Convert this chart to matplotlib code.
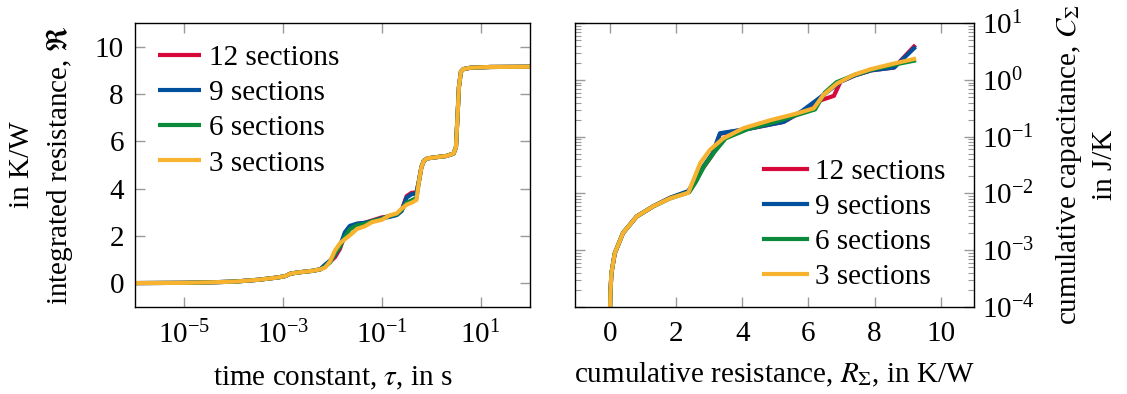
import numpy as np
import matplotlib
matplotlib.use("Agg")
import matplotlib.pyplot as plt
from matplotlib.ticker import FixedLocator, NullLocator, LogLocator, LogFormatterSciNotation, NullFormatter

plt.rcParams['font.family'] = ['Liberation Serif', 'DejaVu Serif']
plt.rcParams['mathtext.fontset'] = 'stix'

labels = ["12 sections", "9 sections", "6 sections", "3 sections"]
colors = ["#D9083A", "#00509E", "#0A8A3A", "#F7B22F"]

# left: integrated resistance over log10(time constant)
log_tau = [-6.0, -5.0, -4.5, -4.0, -3.5, -3.1, -2.95, -2.85, -2.7, -2.4, -2.25,
           -2.15, -2.05, -1.95, -1.85, -1.75, -1.65, -1.5, -1.35, -1.2, -1.0,
           -0.85, -0.7, -0.6, -0.5, -0.4, -0.3, -0.25, -0.2, -0.15, -0.08,
           0.1, 0.3, 0.45, 0.5, 0.53, 0.56, 0.6, 0.65, 0.8, 1.2, 2.0]
tail = [5.18, 5.28, 5.33, 5.38, 5.48, 5.75, 7.0, 8.3, 8.95, 9.06, 9.12, 9.15, 9.16]
head = [0.0, 0.01, 0.03, 0.06, 0.14, 0.24, 0.30, 0.40, 0.45, 0.52, 0.58]
res_12 = head + [0.75, 0.90, 1.10, 1.45, 2.05, 2.38, 2.50, 2.55, 2.65, 2.78, 2.82,
                 2.90, 3.08, 3.68, 3.82, 3.84, 4.30, 4.90] + tail
res_9 = head + [0.78, 0.95, 1.20, 1.55, 2.15, 2.42, 2.52, 2.55, 2.62, 2.75, 2.80,
                2.88, 3.05, 3.62, 3.76, 3.80, 4.35, 4.92] + tail
res_6 = head + [0.70, 0.88, 1.25, 1.55, 1.95, 2.28, 2.45, 2.50, 2.62, 2.72, 2.84,
                2.92, 3.10, 3.40, 3.50, 3.60, 4.30, 4.90] + tail
res_3 = head + [0.66, 0.92, 1.38, 1.68, 1.86, 2.02, 2.30, 2.40, 2.58, 2.68, 2.86,
                2.95, 3.15, 3.32, 3.40, 3.52, 4.30, 4.90] + tail

# right: cumulative structure function (R_sum, log10 C_sum)
rs_12 = [0.0, 0.02, 0.05, 0.15, 0.40, 0.81, 1.31, 1.82, 2.37, 2.55, 2.80, 3.10,
         3.33, 4.2, 5.25, 5.8, 6.26, 6.77, 6.97, 7.4, 7.9, 8.59, 9.19]
lc_12 = [-4.3, -3.75, -3.41, -3.06, -2.70, -2.41, -2.23, -2.08, -1.97, -1.82,
         -1.57, -1.32, -0.95, -0.86, -0.74, -0.56, -0.38, -0.28, -0.03, 0.08,
         0.17, 0.22, 0.59]
rs_9 = [0.0, 0.02, 0.05, 0.15, 0.40, 0.81, 1.31, 1.82, 2.37, 2.55, 2.80, 3.10,
        3.33, 4.2, 5.25, 5.8, 6.26, 6.97, 7.4, 7.9, 8.59, 9.19]
lc_9 = [-4.3, -3.75, -3.41, -3.06, -2.70, -2.41, -2.23, -2.08, -1.96, -1.80,
        -1.55, -1.30, -0.94, -0.86, -0.74, -0.55, -0.35, -0.03, 0.08, 0.17,
        0.22, 0.56]
rs_6 = [0.0, 0.02, 0.05, 0.15, 0.40, 0.81, 1.31, 1.82, 2.40, 2.60, 2.85, 3.15,
        3.5, 4.2, 5.0, 5.7, 6.2, 6.5, 6.85, 7.4, 7.9, 8.59, 9.19]
lc_6 = [-4.3, -3.75, -3.41, -3.06, -2.70, -2.41, -2.23, -2.09, -1.98, -1.80,
        -1.52, -1.28, -1.03, -0.86, -0.74, -0.61, -0.52, -0.22, -0.04, 0.09,
        0.18, 0.27, 0.34]
rs_3 = [0.0, 0.02, 0.05, 0.15, 0.40, 0.81, 1.31, 1.82, 2.37, 2.53, 2.73, 3.03,
        3.43, 4.04, 4.85, 5.66, 6.16, 6.46, 6.87, 7.37, 7.88, 8.59, 9.19]
lc_3 = [-4.3, -3.75, -3.41, -3.06, -2.70, -2.41, -2.23, -2.09, -1.99, -1.76,
        -1.47, -1.23, -1.03, -0.85, -0.71, -0.59, -0.50, -0.26, -0.06, 0.09,
        0.19, 0.29, 0.37]

fs_tick = 21
fs_leg = 21
fs_lab = 21
lw = 3.0
tick_col = "#9a9a9a"

fig = plt.figure(figsize=(11.27, 3.94), dpi=100)
ax1 = fig.add_axes([0.1198, 0.2216, 0.3505, 0.7193])
ax2 = fig.add_axes([0.5102, 0.2216, 0.3540, 0.7193])

tau = 10.0 ** np.array(log_tau)
for r, c, lab in zip([res_12, res_9, res_6, res_3], colors, labels):
    ax1.plot(tau, r, color=c, lw=lw, label=lab, solid_joinstyle="round", solid_capstyle="butt")
ax1.set_xscale("log")
ax1.set_xlim(1e-6, 1e2)
ax1.set_ylim(-1, 11)
ax1.xaxis.set_major_locator(FixedLocator([1e-5, 1e-3, 1e-1, 1e1]))
ax1.xaxis.set_major_formatter(LogFormatterSciNotation())
ax1.xaxis.set_minor_locator(NullLocator())
ax1.set_yticks([0, 2, 4, 6, 8, 10])
ax1.set_xlabel(r"time constant, $\tau$, in s", fontsize=fs_lab, labelpad=11)
ax1.set_ylabel("in K/W\n" + r"integrated resistance, $\mathfrak{R}$", fontsize=fs_lab,
               labelpad=14, linespacing=1.4)
ax1.legend(loc="upper left", fontsize=fs_leg, frameon=False, handlelength=1.47,
           handletextpad=0.28, labelspacing=0.3, borderaxespad=0.0,
           bbox_to_anchor=(0.029, 0.966))

for rs, lc, c, lab in zip([rs_12, rs_9, rs_6, rs_3], [lc_12, lc_9, lc_6, lc_3], colors, labels):
    ax2.plot(rs, 10.0 ** np.array(lc), color=c, lw=lw, label=lab, solid_joinstyle="round")
ax2.set_yscale("log")
ax2.set_xlim(-1.05, 11)
ax2.set_ylim(1e-4, 1e1)
ax2.set_xticks([0, 2, 4, 6, 8, 10])
ax2.yaxis.set_major_locator(LogLocator(base=10, numticks=10))
ax2.yaxis.set_minor_locator(LogLocator(base=10, subs=np.arange(2, 10), numticks=10))
ax2.yaxis.set_minor_formatter(NullFormatter())
ax2.yaxis.set_label_position("right")
ax2.set_xlabel(r"cumulative resistance, $R_\Sigma$, in K/W", fontsize=fs_lab, labelpad=10)
ax2.set_ylabel(r"cumulative capacitance, $C_\Sigma$" + "\nin J/K", fontsize=fs_lab,
               labelpad=14, linespacing=1.4)
ax2.legend(loc="lower right", fontsize=fs_leg, frameon=False, handlelength=1.47,
           handletextpad=0.28, labelspacing=0.3, borderaxespad=0.0,
           bbox_to_anchor=(0.957, 0.016))

for ax in (ax1, ax2):
    ax.tick_params(which="both", direction="in", top=True, bottom=True, left=True,
                   right=True, color=tick_col, labelsize=fs_tick)
    ax.tick_params(which="major", length=7, width=1)
    ax.tick_params(which="minor", length=4, width=0.8)
    ax.tick_params(axis="x", which="both", pad=10)
    for s in ax.spines.values():
        s.set_linewidth(1.0)
ax1.tick_params(axis="y", pad=8)
ax2.tick_params(axis="y", which="both", labelleft=False, labelright=True, pad=6)

fig.savefig("out.png", dpi=100)
plt.close(fig)
